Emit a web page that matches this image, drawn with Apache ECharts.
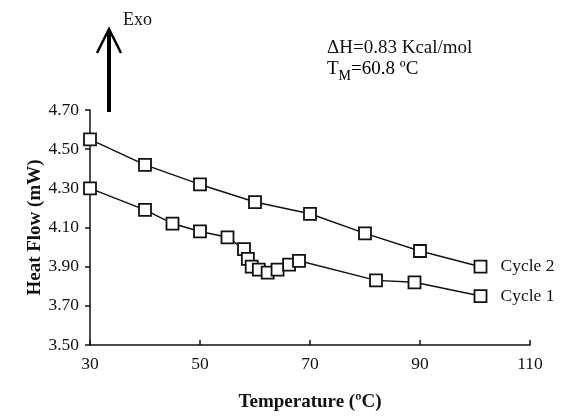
<!DOCTYPE html>
<html>
<head>
<meta charset="utf-8">
<script src="https://cdn.jsdelivr.net/npm/echarts@6/dist/echarts.min.js"></script>
<style>
  html, body { margin: 0; padding: 0; background: #fff; }
  #main { width: 562px; height: 416px; }
</style>
</head>
<body>
<div id="main"></div>
<script>
var chartDom = document.getElementById('main')
var myChart = echarts.init(chartDom)

// temperatures (°C) and heat flow (mW)
const cycle1Temp = [30, 40, 45, 50, 55, 58, 58.7, 59.4, 60.7, 62.3, 64.1, 66.2, 68, 82, 89, 101]
const cycle1Flow = [4.30, 4.19, 4.12, 4.08, 4.05, 3.99, 3.94, 3.90, 3.885, 3.87, 3.885, 3.91, 3.93, 3.83, 3.82, 3.75]
const cycle2Temp = [30, 40, 50, 60, 70, 80, 90, 101]
const cycle2Flow = [4.55, 4.42, 4.32, 4.23, 4.17, 4.07, 3.98, 3.90]
const seriesNames = ['Cycle 1', 'Cycle 2']

const font = 'Liberation Serif'
const pairs = (xs, ys) => xs.map((x, i) => [x, ys[i]])

const makeSeries = (name, data) => ({
  name: name,
  type: 'line',
  data: data,
  symbol: 'rect',
  symbolSize: 12,
  lineStyle: { color: '#111', width: 1.5 },
  itemStyle: { color: '#fff', borderColor: '#111', borderWidth: 1.8 },
  endLabel: {
    show: true,
    formatter: name,
    distance: 20,
    color: '#111',
    fontFamily: font,
    fontSize: 17.5
  },
  animation: false
})

var option = {
  backgroundColor: '#fff',
  grid: { left: 90, right: 32, top: 110, bottom: 71, outerBoundsMode: 'none' },
  xAxis: {
    type: 'value',
    min: 30,
    max: 110,
    interval: 20,
    name: 'Temperature (ºC)',
    nameLocation: 'middle',
    nameGap: 48,
    nameMoveOverlap: false,
    nameTextStyle: { fontFamily: font, fontSize: 19, fontWeight: 'bold', color: '#111' },
    axisLine: { lineStyle: { color: '#111', width: 1.5 } },
    axisTick: { inside: true, length: 5, lineStyle: { color: '#111', width: 1.5 } },
    axisLabel: { fontFamily: font, fontSize: 17.5, color: '#111', margin: 10 },
    splitLine: { show: false }
  },
  yAxis: {
    type: 'value',
    min: 3.5,
    max: 4.7,
    interval: 0.2,
    name: 'Heat Flow (mW)',
    nameLocation: 'middle',
    nameRotate: 90,
    nameGap: 45,
    nameMoveOverlap: false,
    nameTextStyle: { fontFamily: font, fontSize: 19, fontWeight: 'bold', color: '#111' },
    axisLine: { show: true, lineStyle: { color: '#111', width: 1.5 } },
    axisTick: { show: true, length: 5, lineStyle: { color: '#111', width: 1.5 } },
    axisLabel: {
      fontFamily: font, fontSize: 17.5, color: '#111', margin: 11,
      formatter: v => v.toFixed(2)
    },
    splitLine: { show: false }
  },
  graphic: [
    {
      type: 'line',
      shape: { x1: 109, y1: 31, x2: 109, y2: 112 },
      style: { stroke: '#000', lineWidth: 4 }
    },
    {
      type: 'polyline',
      shape: { points: [[97, 53], [109, 29], [121, 53]] },
      style: { stroke: '#000', lineWidth: 2.5, fill: null }
    },
    {
      type: 'text',
      left: 123, top: 11,
      style: { text: 'Exo', fontFamily: font, fontSize: 18, fill: '#111' }
    },
    {
      type: 'text',
      left: 327, top: 39,
      style: { text: 'ΔH=0.83 Kcal/mol', fontFamily: font, fontSize: 19, fill: '#111' }
    },
    {
      type: 'text',
      left: 327, top: 60,
      style: {
        text: '{a|T}{s|M}{a|=60.8 ºC}',
        rich: {
          a: { fontFamily: font, fontSize: 19, color: '#111', verticalAlign: 'top' },
          s: { fontFamily: font, fontSize: 14, color: '#111', padding: [9, 0, 0, 0], verticalAlign: 'top' }
        }
      }
    }
  ],
  series: [
    makeSeries(seriesNames[0], pairs(cycle1Temp, cycle1Flow)),
    makeSeries(seriesNames[1], pairs(cycle2Temp, cycle2Flow))
  ]
}

option && myChart.setOption(option)
</script>
</body>
</html>
